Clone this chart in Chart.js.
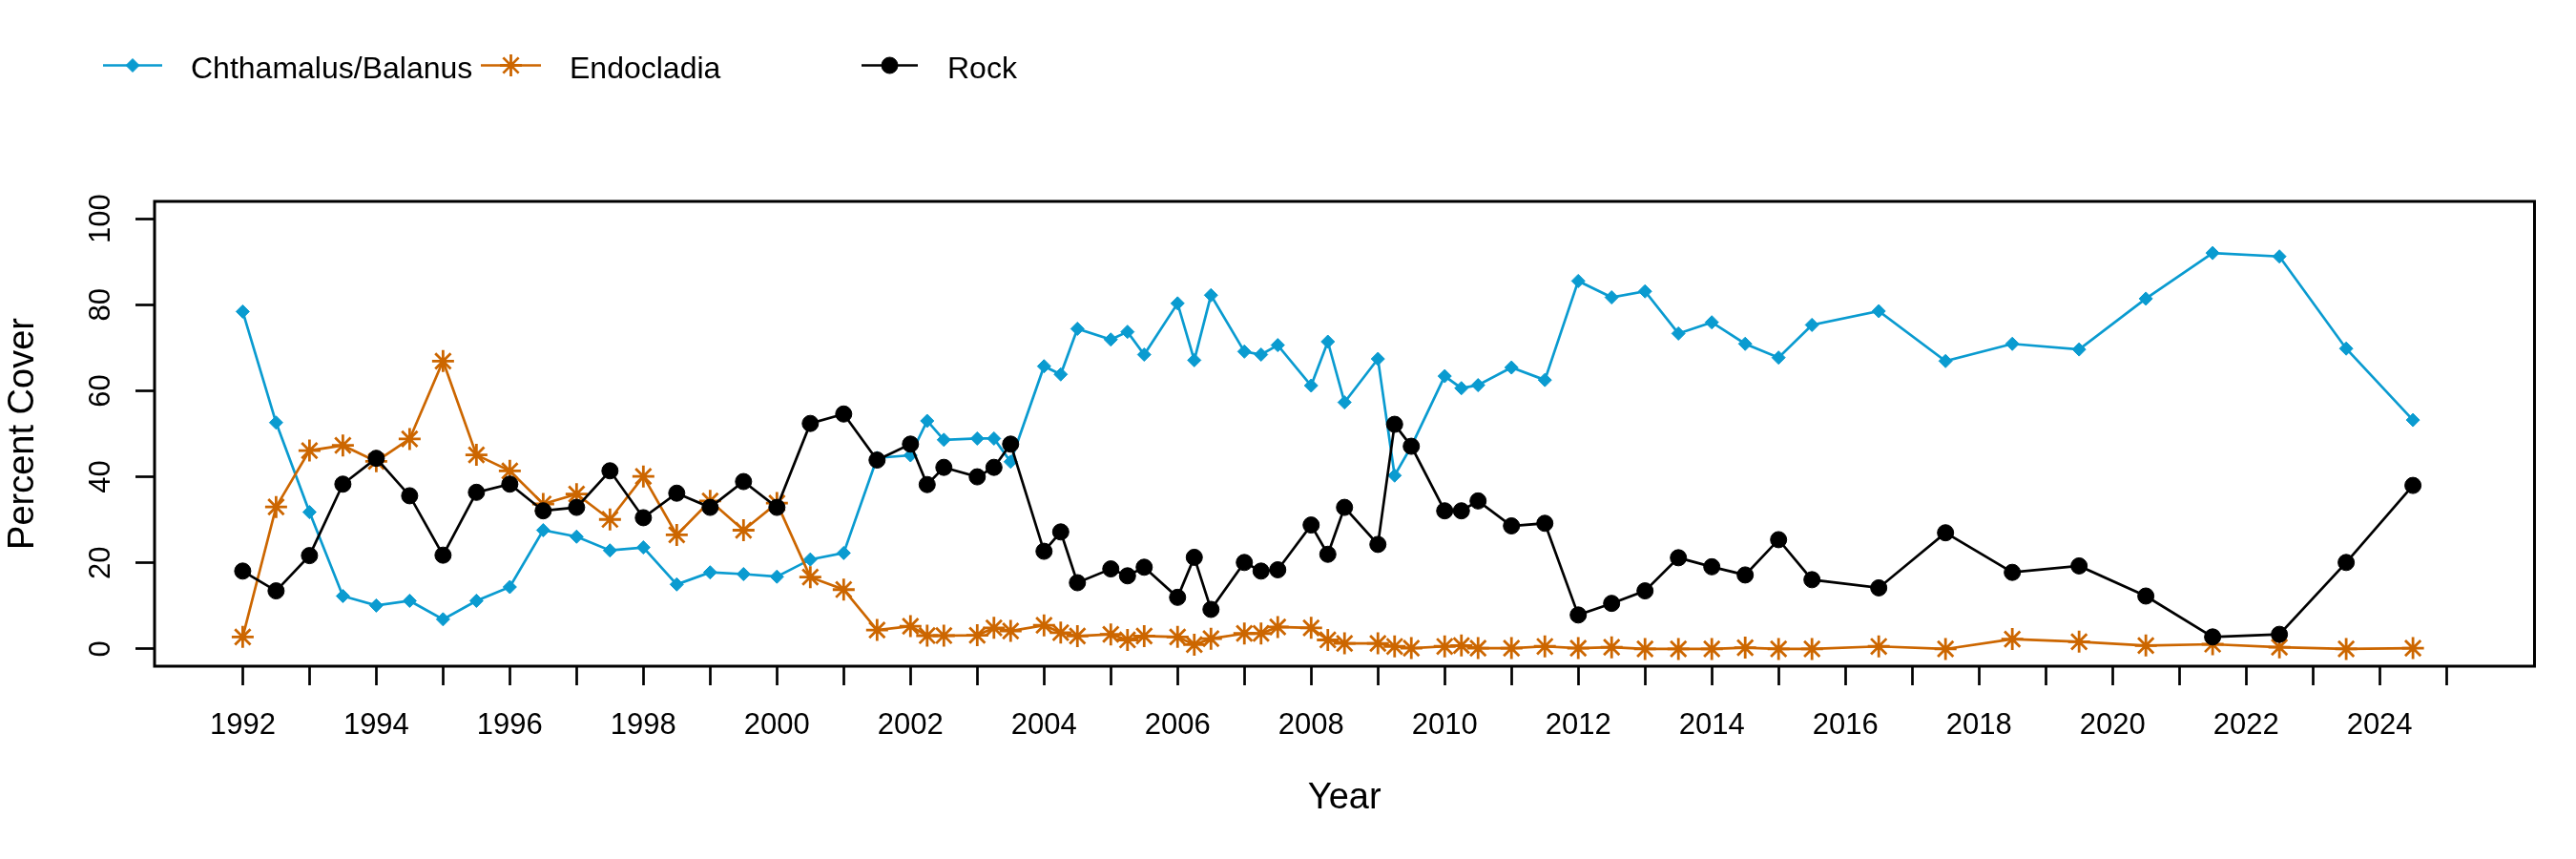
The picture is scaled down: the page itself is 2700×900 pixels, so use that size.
<!DOCTYPE html>
<html>
<head>
<meta charset="utf-8">
<script src="https://cdn.jsdelivr.net/npm/chart.js@4/dist/chart.umd.min.js"></script>
<style>
  html, body { margin: 0; padding: 0; background: #fff; }
  canvas { display: block; }
</style>
</head>
<body>
<canvas id="cover-chart" width="2700" height="900"></canvas>
<script>
"use strict";

// survey dates (decimal years)
const years = [1992, 1992.5, 1993, 1993.5, 1994, 1994.5, 1995, 1995.5, 1996, 1996.5,
    1997, 1997.5, 1998, 1998.5, 1999, 1999.5, 2000, 2000.5, 2001, 2001.5,
    2002, 2002.25, 2002.5, 2003, 2003.25, 2003.5, 2004, 2004.25, 2004.5, 2005,
    2005.25, 2005.5, 2006, 2006.25, 2006.5, 2007, 2007.25, 2007.5, 2008, 2008.25,
    2008.5, 2009, 2009.25, 2009.5, 2010, 2010.25, 2010.5, 2011, 2011.5, 2012,
    2012.5, 2013, 2013.5, 2014, 2014.5, 2015, 2015.5, 2016.5, 2017.5, 2018.5,
    2019.5, 2020.5, 2021.5, 2022.5, 2023.5, 2024.5];

const chthamalus = [78.4, 52.6, 31.8, 12.3, 10.1, 11.2, 6.9, 11.2, 14.4, 27.6,
    26.1, 22.9, 23.6, 15.0, 17.8, 17.4, 16.8, 20.8, 22.3, 44.4,
    45.0, 53.0, 48.6, 48.9, 48.9, 43.5, 65.7, 63.8, 74.4, 71.9,
    73.7, 68.4, 80.3, 67.1, 82.2, 69.1, 68.4, 70.6, 61.2, 71.4,
    57.3, 67.4, 40.3, 47.1, 63.4, 60.6, 61.3, 65.4, 62.5, 85.5,
    81.7, 83.1, 73.3, 75.9, 70.9, 67.7, 75.3, 78.5, 66.9, 70.9,
    69.6, 81.4, 92.0, 91.2, 69.8, 53.2];

const endocladia = [2.8, 33.0, 46.1, 47.3, 43.6, 48.8, 66.9, 45.1, 41.4, 33.7,
    36.0, 30.1, 40.1, 26.5, 34.4, 27.6, 33.9, 16.7, 13.8, 4.4,
    5.3, 3.1, 3.1, 3.2, 4.9, 4.2, 5.5, 3.8, 3.0, 3.4,
    2.1, 3.0, 2.8, 1.0, 2.4, 3.6, 3.6, 5.1, 4.9, 2.1,
    1.3, 1.3, 0.6, 0.2, 0.6, 0.8, 0.2, 0.2, 0.6, 0.2,
    0.4, 0, 0, 0, 0.3, 0, 0, 0.6, 0, 2.3,
    1.7, 0.8, 1.1, 0.4, 0, 0.2];

const rock = [18.1, 13.5, 21.7, 38.3, 44.3, 35.6, 21.8, 36.4, 38.3, 32.1,
    32.9, 41.4, 30.5, 36.2, 32.9, 38.9, 32.9, 52.4, 54.6, 43.9,
    47.6, 38.2, 42.2, 40.0, 42.2, 47.6, 22.7, 27.2, 15.4, 18.6,
    17.0, 19.0, 12.0, 21.3, 9.2, 20.1, 18.1, 18.4, 28.8, 22.0,
    32.9, 24.3, 52.2, 47.1, 32.1, 32.1, 34.4, 28.6, 29.2, 7.9,
    10.6, 13.5, 21.2, 19.1, 17.2, 25.4, 16.1, 14.2, 27.0, 17.8,
    19.3, 12.3, 2.8, 3.4, 20.1, 38.0];

const seriesNames = ['Chthamalus/Balanus', 'Endocladia', 'Rock'];

// axis ticks
const xTickYears = [];
for (let y = 1992; y <= 2025; y++) xTickYears.push(y);
const yTicks = [0, 20, 40, 60, 80, 100];

const FONT = '"Liberation Sans", Arial, sans-serif';
const BLUE = '#0a9bd0';
const ORANGE = '#cc6600';
const BLACK = '#000000';

const toPoints = (vals) => vals.map((v, i) => ({ x: years[i], y: v }));

/**
 * Box, rotated y labels and the legend row (R base graphics look)
 */
const rStylePlugin = {
    id: 'rStyle',
    afterDraw(chart) {
        const ctx = chart.ctx;
        const area = chart.chartArea;
        ctx.save();

        // plot box
        ctx.lineWidth = 3;
        ctx.strokeStyle = '#000';
        ctx.strokeRect(area.left, area.top, area.right - area.left, area.bottom - area.top);

        // y tick labels, parallel to the axis
        const yScale = chart.scales.y;
        ctx.font = '31px ' + FONT;
        ctx.fillStyle = '#000';
        ctx.textAlign = 'center';
        ctx.textBaseline = 'alphabetic';
        yScale.ticks.forEach(t => {
            ctx.save();
            ctx.translate(115, yScale.getPixelForValue(t.value));
            ctx.rotate(-Math.PI / 2);
            ctx.fillText(String(t.value), 0, 0);
            ctx.restore();
        });

        // legend
        const slots = [
            { x0: 108, x1: 170, tx: 200 },
            { x0: 504, x1: 567, tx: 597 },
            { x0: 903, x1: 962, tx: 993 }
        ];
        const ly = 68.5;
        chart.data.datasets.forEach((ds, i) => {
            const s = slots[i];
            ctx.strokeStyle = ds.borderColor;
            ctx.fillStyle = ds.pointBackgroundColor;
            ctx.lineWidth = ds.borderWidth;
            ctx.beginPath();
            ctx.moveTo(s.x0, ly);
            ctx.lineTo(s.x1, ly);
            ctx.stroke();
            ctx.strokeStyle = ds.pointBorderColor;
            ctx.lineWidth = ds.pointBorderWidth;
            Chart.helpers.drawPoint(ctx, {
                pointStyle: ds.pointStyle,
                radius: ds.pointRadius,
                borderWidth: ds.pointBorderWidth,
                rotation: 0
            }, (s.x0 + s.x1) / 2, ly);
            ctx.fillStyle = '#000';
            ctx.font = '32px ' + FONT;
            ctx.textAlign = 'left';
            ctx.textBaseline = 'alphabetic';
            ctx.fillText(seriesNames[i], s.tx, 81.7);
        });

        ctx.restore();
    }
};

function initCoverChart() {
    const canvas = document.getElementById('cover-chart');
    const ctx = canvas.getContext('2d');

    new Chart(ctx, {
        type: 'line',
        data: {
            datasets: [
                {
                    label: seriesNames[0],
                    data: toPoints(chthamalus),
                    borderColor: BLUE,
                    backgroundColor: BLUE,
                    borderWidth: 2.7,
                    pointStyle: 'rectRot',
                    pointRadius: 7,
                    pointBackgroundColor: BLUE,
                    pointBorderColor: BLUE,
                    pointBorderWidth: 1,
                    tension: 0,
                    order: 2
                },
                {
                    label: seriesNames[1],
                    data: toPoints(endocladia),
                    borderColor: ORANGE,
                    backgroundColor: ORANGE,
                    borderWidth: 2.7,
                    pointStyle: 'star',
                    pointRadius: 11.5,
                    pointBackgroundColor: ORANGE,
                    pointBorderColor: ORANGE,
                    pointBorderWidth: 2.8,
                    tension: 0,
                    order: 1
                },
                {
                    label: seriesNames[2],
                    data: toPoints(rock),
                    borderColor: BLACK,
                    backgroundColor: BLACK,
                    borderWidth: 2.7,
                    pointStyle: 'circle',
                    pointRadius: 8.5,
                    pointBackgroundColor: BLACK,
                    pointBorderColor: BLACK,
                    pointBorderWidth: 1,
                    tension: 0,
                    order: 0
                }
            ]
        },
        options: {
            responsive: false,
            animation: false,
            devicePixelRatio: 1,
            layout: { padding: { left: 0, top: 211, right: 43.5, bottom: 0 } },
            plugins: {
                legend: { display: false },
                tooltip: { enabled: false }
            },
            scales: {
                x: {
                    type: 'linear',
                    min: 1990.68,
                    max: 2026.32,
                    afterBuildTicks: (scale) => {
                        scale.ticks = xTickYears.map(v => ({ value: v }));
                    },
                    afterFit: (scale) => { scale.height = 202; },
                    ticks: {
                        autoSkip: false,
                        maxRotation: 0,
                        minRotation: 0,
                        padding: 24,
                        color: '#000',
                        font: { family: FONT, size: 31 },
                        callback: (value) => (value % 2 === 0 ? String(value) : '')
                    },
                    grid: {
                        drawOnChartArea: false,
                        drawTicks: true,
                        tickLength: 20,
                        tickWidth: 2.7,
                        tickColor: '#000'
                    },
                    border: { display: false },
                    title: {
                        display: true,
                        text: 'Year',
                        color: '#000',
                        font: { family: FONT, size: 38 },
                        padding: { top: 0, bottom: 41 }
                    }
                },
                y: {
                    type: 'linear',
                    min: -4,
                    max: 104,
                    afterBuildTicks: (scale) => {
                        scale.ticks = yTicks.map(v => ({ value: v }));
                    },
                    afterFit: (scale) => { scale.width = 162; },
                    ticks: {
                        color: 'rgba(0,0,0,0)',
                        font: { family: FONT, size: 31 }
                    },
                    grid: {
                        drawOnChartArea: false,
                        drawTicks: true,
                        tickLength: 20,
                        tickWidth: 2.7,
                        tickColor: '#000'
                    },
                    border: { display: false },
                    title: {
                        display: true,
                        text: 'Percent Cover',
                        color: '#000',
                        font: { family: FONT, size: 38 },
                        padding: { top: 2, bottom: 0 }
                    }
                }
            }
        },
        plugins: [rStylePlugin]
    });
}

document.addEventListener('DOMContentLoaded', () => {
    initCoverChart();
});
</script>
</body>
</html>
